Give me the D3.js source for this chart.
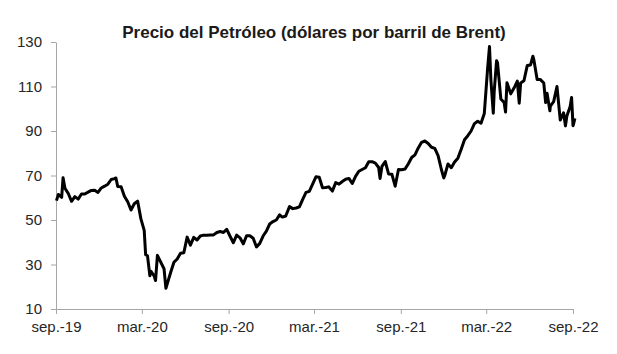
<!DOCTYPE html>
<html>
<head>
<meta charset="utf-8">
<script src="https://cdn.jsdelivr.net/npm/d3@7"></script>
<style>
  body { margin: 0; background: #fff; }
  .axis path, .axis line { stroke: #a6a6a6; }
  .axis text { font-family: "Liberation Sans", Arial, sans-serif; font-size: 15px; fill: #262626; }
  .title { font-family: "Liberation Sans", Arial, sans-serif; font-size: 17px; font-weight: bold; fill: #1a1a1a; }
</style>
</head>
<body>
<script>
//Brent price (roughly weekly closes)
var dates = [
  "2019-09-02","2019-09-06","2019-09-13","2019-09-16","2019-09-20","2019-09-27","2019-10-04","2019-10-11","2019-10-18","2019-10-25",
  "2019-11-01","2019-11-08","2019-11-15","2019-11-22","2019-11-29","2019-12-06","2019-12-13","2019-12-20","2019-12-27",
  "2020-01-03","2020-01-06","2020-01-10","2020-01-17","2020-01-24","2020-01-31","2020-02-07","2020-02-14","2020-02-21","2020-02-28",
  "2020-03-06","2020-03-09","2020-03-13","2020-03-18","2020-03-20","2020-03-27","2020-03-30","2020-04-03","2020-04-09","2020-04-17",
  "2020-04-21","2020-04-24","2020-05-01","2020-05-08","2020-05-15","2020-05-22","2020-05-29","2020-06-05","2020-06-12","2020-06-19",
  "2020-06-26","2020-07-03","2020-07-10","2020-07-17","2020-07-24","2020-07-31","2020-08-07","2020-08-14","2020-08-21","2020-08-28",
  "2020-09-04","2020-09-11","2020-09-18","2020-09-25","2020-10-02","2020-10-09","2020-10-16","2020-10-23","2020-10-30","2020-11-06",
  "2020-11-13","2020-11-20","2020-11-27","2020-12-04","2020-12-11","2020-12-18","2020-12-24","2020-12-31",
  "2021-01-08","2021-01-15","2021-01-22","2021-01-29","2021-02-05","2021-02-12","2021-02-19","2021-02-26","2021-03-05","2021-03-12",
  "2021-03-19","2021-03-26","2021-04-01","2021-04-09","2021-04-16","2021-04-23","2021-04-30","2021-05-07","2021-05-14","2021-05-21",
  "2021-05-28","2021-06-04","2021-06-11","2021-06-18","2021-06-25","2021-07-02","2021-07-09","2021-07-16","2021-07-19","2021-07-23",
  "2021-07-30","2021-08-06","2021-08-13","2021-08-20","2021-08-27","2021-09-03","2021-09-10","2021-09-17","2021-09-24","2021-10-01",
  "2021-10-08","2021-10-15","2021-10-22","2021-10-29","2021-11-05","2021-11-12","2021-11-19","2021-11-26","2021-12-01","2021-12-03",
  "2021-12-10","2021-12-17","2021-12-24","2021-12-31",
  "2022-01-07","2022-01-14","2022-01-21","2022-01-28","2022-02-04","2022-02-11","2022-02-18","2022-02-25","2022-03-04","2022-03-08",
  "2022-03-11","2022-03-16","2022-03-18","2022-03-23","2022-03-25","2022-04-01","2022-04-08","2022-04-11","2022-04-14","2022-04-22",
  "2022-04-29","2022-05-06","2022-05-10","2022-05-13","2022-05-20","2022-05-27","2022-06-03","2022-06-08","2022-06-10","2022-06-17",
  "2022-06-24","2022-07-01","2022-07-05","2022-07-08","2022-07-14","2022-07-15","2022-07-22","2022-07-29","2022-08-05","2022-08-12",
  "2022-08-16","2022-08-19","2022-08-26","2022-08-29","2022-09-01","2022-09-02","2022-09-05"
];

var prices = [
  58.7, 61.5, 60.2, 69.0, 64.3, 61.9, 58.4, 60.5, 59.4, 61.7,
  61.7, 62.5, 63.3, 63.4, 62.4, 64.4, 65.2, 66.1, 68.2,
  68.6, 68.9, 65.0, 64.9, 60.7, 58.2, 54.5, 57.3, 58.5, 50.5,
  45.3, 34.4, 33.9, 24.9, 27.0, 24.9, 22.8, 34.1, 31.5, 28.1,
  19.3, 21.4, 26.4, 31.0, 32.5, 35.1, 35.3, 42.3, 38.7, 42.2,
  41.0, 42.8, 43.2, 43.1, 43.3, 43.3, 44.4, 44.8, 44.4, 45.8,
  42.7, 39.8, 43.2, 42.0, 39.3, 42.9, 42.9, 41.8, 37.9, 39.5,
  42.8, 45.0, 48.2, 49.3, 50.0, 52.3, 51.3, 51.8,
  56.0, 55.1, 55.4, 55.9, 59.3, 62.4, 62.9, 66.1, 69.4, 69.2,
  64.5, 64.6, 64.9, 63.0, 66.8, 66.1, 67.3, 68.3, 68.7, 66.4,
  69.6, 71.9, 72.7, 73.5, 76.2, 76.2, 75.6, 73.6, 68.6, 74.1,
  76.3, 70.7, 70.6, 65.2, 72.7, 72.6, 72.9, 75.3, 78.1, 79.3,
  82.4, 84.9, 85.5, 84.4, 82.7, 82.2, 78.9, 72.7, 68.9, 69.9,
  75.2, 73.5, 76.1, 77.8,
  81.8, 86.1, 87.9, 90.0, 93.3, 94.4, 93.5, 97.9, 118.1, 128.0,
  112.7, 98.0, 107.9, 121.6, 120.6, 104.4, 102.8, 98.5, 111.7, 106.7,
  109.3, 112.4, 102.5, 111.6, 112.6, 119.4, 119.7, 123.6, 122.0, 113.1,
  113.1, 111.6, 102.8, 107.0, 99.1, 101.2, 103.2, 110.0, 94.9, 98.2,
  92.3, 96.7, 101.0, 105.1, 92.4, 93.0, 95.7
];

var yTicks = [10, 30, 50, 70, 90, 110, 130];
var xTicks = ["2019-09-01","2020-03-01","2020-09-01","2021-03-01","2021-09-01","2022-03-01","2022-09-01"];
var xTickLabels = ["sep.-19","mar.-20","sep.-20","mar.-21","sep.-21","mar.-22","sep.-22"];
var title = "Precio del Petróleo (dólares por barril de Brent)";

var width = 617,
  height = 354;

var parseDate = d3.timeParse("%Y-%m-%d");

var data = dates.map(function(d, i) {
  return { date: parseDate(d), price: prices[i] };
});

var svg = d3.select("body")
  .append("svg")
  .attr("width", width)
  .attr("height", height);

//scales
var x = d3.scaleTime()
  .domain([parseDate(xTicks[0]), parseDate(xTicks[xTicks.length - 1])])
  .range([56, 573]);

var y = d3.scaleLinear()
  .domain([10, 130])
  .range([309, 42]);

//title
svg.append("text")
  .attr("class", "title")
  .attr("x", 314)
  .attr("y", 38)
  .attr("text-anchor", "middle")
  .text(title);

//y axis
svg.append("g")
  .attr("class", "axis")
  .attr("transform", "translate(56,0)")
  .call(d3.axisLeft(y)
    .tickValues(yTicks)
    .tickSizeInner(5)
    .tickSizeOuter(0)
    .tickPadding(9));

//x axis
svg.append("g")
  .attr("class", "axis")
  .attr("transform", "translate(0,309)")
  .call(d3.axisBottom(x)
    .tickValues(xTicks.map(parseDate))
    .tickSizeInner(5)
    .tickSizeOuter(0)
    .tickPadding(7)
    .tickFormat(function(d, i) { return xTickLabels[i]; }));

//price line
var line = d3.line()
  .x(function(d) { return x(d.date); })
  .y(function(d) { return y(d.price); });

svg.append("path")
  .datum(data)
  .attr("fill", "none")
  .attr("stroke", "#000")
  .attr("stroke-width", 3)
  .attr("stroke-linejoin", "round")
  .attr("d", line);
</script>
</body>
</html>
